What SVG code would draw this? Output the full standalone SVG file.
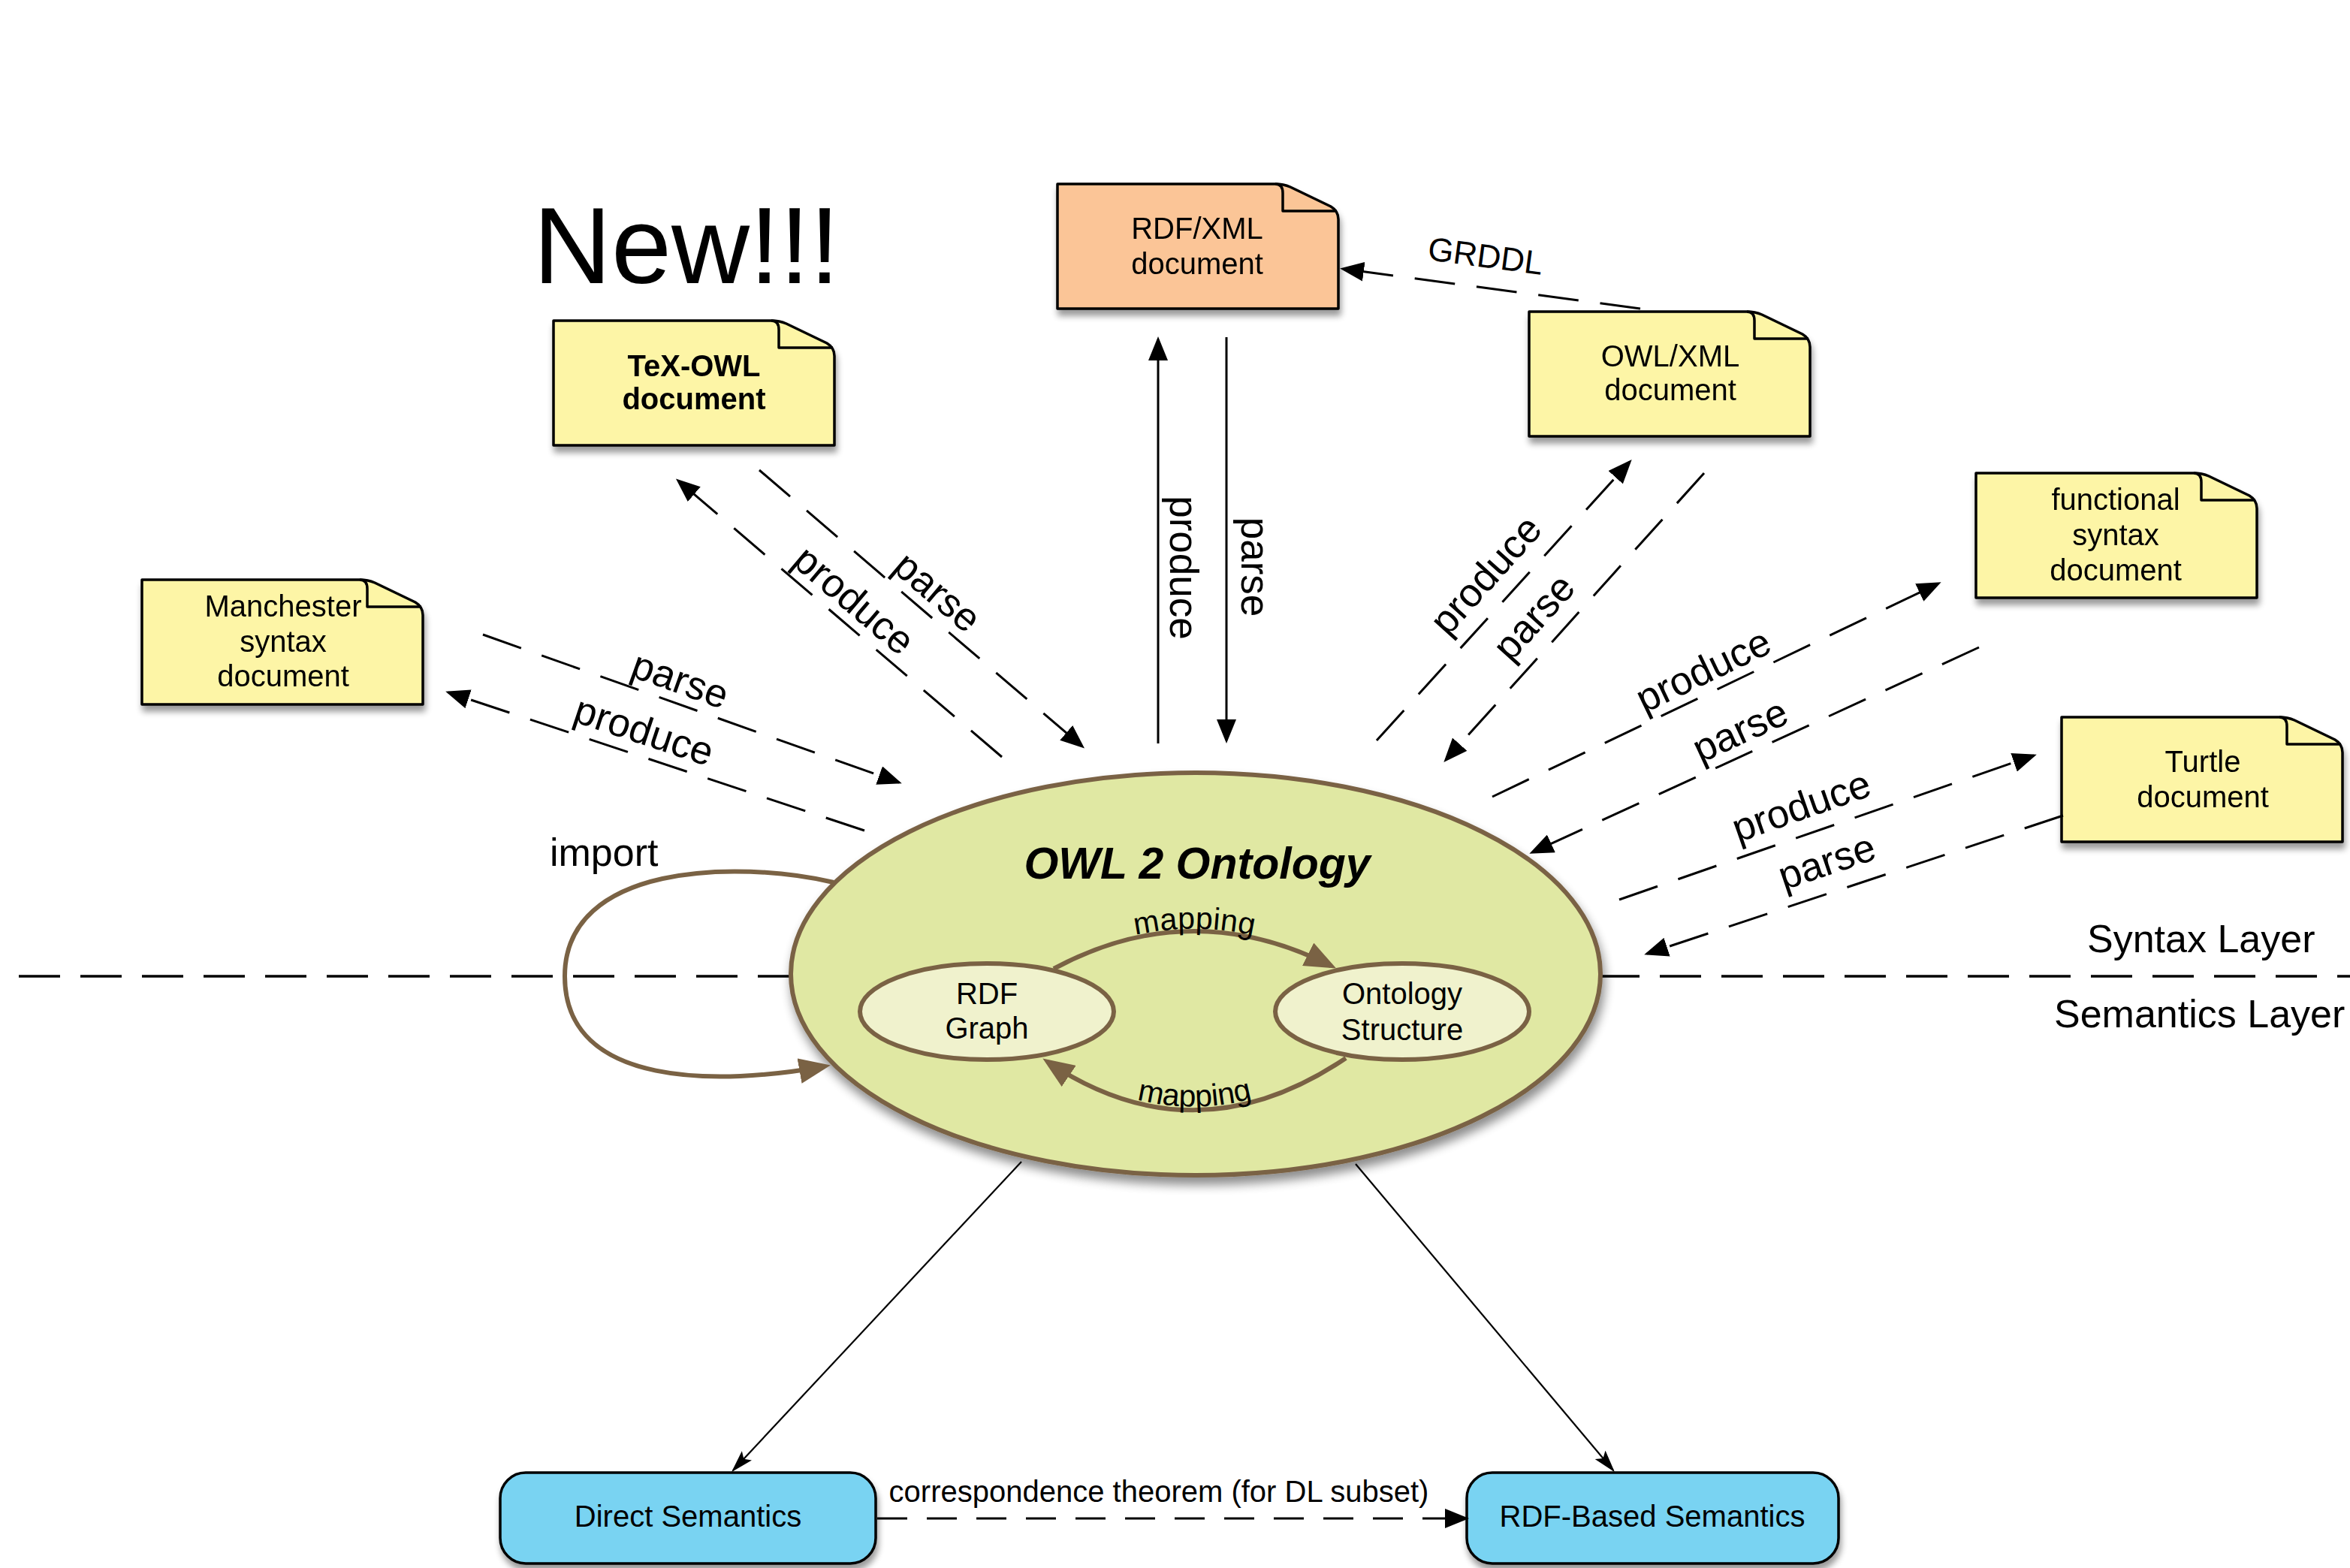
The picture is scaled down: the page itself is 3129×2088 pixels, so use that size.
<svg xmlns="http://www.w3.org/2000/svg" width="3129" height="2088" viewBox="0 0 3129 2088">
<style>
text { font-family: "Liberation Sans", Arial, Helvetica, sans-serif; fill: #000; }
.docl { font-size: 40px; text-anchor: middle; }
.docb { font-size: 40px; text-anchor: middle; font-weight: bold; }
.lbl { font-size: 53px; text-anchor: middle; }
.doc { stroke: #000; stroke-width: 3.5; stroke-linejoin: round; }
.fold { fill: none; stroke: #000; stroke-width: 3.5; stroke-linejoin: round; }
.yellow { fill: #FDF5A6; }
.orange { fill: #FBC597; }
.sep { fill: none; stroke: #000; stroke-width: 3.5; stroke-dasharray: 55 27; }
.dash { fill: none; stroke: #000; stroke-width: 3; stroke-dasharray: 54 29; marker-end: url(#ah); }
.solid { fill: none; stroke: #000; stroke-width: 3; marker-end: url(#ah); }
.thin { fill: none; stroke: #000; stroke-width: 2.2; marker-end: url(#ahs); }
.brown { fill: none; stroke: #7A6244; stroke-width: 6; marker-end: url(#ahb); }
.sem { fill: #79D3F2; stroke: #000; stroke-width: 3.5; }
</style>
<defs>
  <filter id="sh" x="-10%" y="-10%" width="125%" height="140%">
    <feGaussianBlur in="SourceAlpha" stdDeviation="4"/>
    <feOffset dx="2" dy="8"/>
    <feComponentTransfer><feFuncA type="linear" slope="0.4"/></feComponentTransfer>
    <feMerge><feMergeNode/><feMergeNode in="SourceGraphic"/></feMerge>
  </filter>
  <filter id="shE" x="-10%" y="-10%" width="125%" height="130%">
    <feGaussianBlur in="SourceAlpha" stdDeviation="7"/>
    <feOffset dx="3" dy="10"/>
    <feComponentTransfer><feFuncA type="linear" slope="0.45"/></feComponentTransfer>
    <feMerge><feMergeNode/><feMergeNode in="SourceGraphic"/></feMerge>
  </filter>
  <path id="docShape" d="M0,0 H290 Q301,0 310,4 L364,30 Q374,36 374,47 V166 H0 Z"/>
  <path id="docFold" d="M290,0 Q300,0 300,12 V36 H372"/>
  <marker id="ah" viewBox="0 0 32 26" refX="28" refY="13" markerWidth="32" markerHeight="26" orient="auto" markerUnits="userSpaceOnUse">
    <path d="M0,0 L32,13 L0,26 z" fill="#000"/>
  </marker>
  <marker id="ahs" viewBox="0 0 30 18" refX="27" refY="9" markerWidth="30" markerHeight="18" orient="auto" markerUnits="userSpaceOnUse">
    <path d="M0,0 L30,9 L0,18 L6,9 z" fill="#000"/>
  </marker>
  <marker id="ahb" viewBox="0 0 42 34" refX="34" refY="17" markerWidth="42" markerHeight="34" orient="auto" markerUnits="userSpaceOnUse">
    <path d="M0,0 L42,17 L0,34 z" fill="#7A6244"/>
  </marker>
  <path id="mapTopText" d="M1403,1290 Q1585,1192 1778,1289"/>
  <path id="mapBotText" d="M1389,1411 Q1590,1545 1792,1409"/>
</defs>
<rect width="3129" height="2088" fill="#fff"/>

<g id="layers">
  <path class="sep" d="M25,1300 H1070"/>
  <path class="sep" d="M2128,1300 H3129"/>
  <text x="2779" y="1268" font-size="52">Syntax Layer</text>
  <text x="2735" y="1368" font-size="52">Semantics Layer</text>
</g>

<text id="new" x="710" y="377" font-size="144">New!!!</text>

<g id="tex-owl" transform="translate(737,427)" filter="url(#sh)">
  <use href="#docShape" class="doc yellow"/>
  <use href="#docFold" class="fold"/>
  <text class="docb" x="187" y="74">TeX-OWL</text>
  <text class="docb" x="187" y="118">document</text>
</g>

<g id="rdfxml" transform="translate(1408,245)" filter="url(#sh)">
  <use href="#docShape" class="doc orange"/>
  <use href="#docFold" class="fold"/>
  <text class="docl" x="186" y="73">RDF/XML</text>
  <text class="docl" x="186" y="120">document</text>
</g>

<g id="owlxml" transform="translate(2036,415)" filter="url(#sh)">
  <use href="#docShape" class="doc yellow"/>
  <use href="#docFold" class="fold"/>
  <text class="docl" x="188" y="73">OWL/XML</text>
  <text class="docl" x="188" y="118">document</text>
</g>

<g id="manchester" transform="translate(189,772)" filter="url(#sh)">
  <use href="#docShape" class="doc yellow"/>
  <use href="#docFold" class="fold"/>
  <text class="docl" x="188" y="49">Manchester</text>
  <text class="docl" x="188" y="96">syntax</text>
  <text class="docl" x="188" y="142">document</text>
</g>

<g id="functional" transform="translate(2631,630)" filter="url(#sh)">
  <use href="#docShape" class="doc yellow"/>
  <use href="#docFold" class="fold"/>
  <text class="docl" x="186" y="49">functional</text>
  <text class="docl" x="186" y="96">syntax</text>
  <text class="docl" x="186" y="143">document</text>
</g>

<g id="turtle" transform="translate(2745,955)" filter="url(#sh)">
  <use href="#docShape" class="doc yellow"/>
  <use href="#docFold" class="fold"/>
  <text class="docl" x="188" y="73">Turtle</text>
  <text class="docl" x="188" y="120">document</text>
</g>

<g id="ontology">
  <ellipse cx="1592" cy="1297" rx="539" ry="268" fill="#E0E8A3" stroke="#7A6244" stroke-width="6" filter="url(#shE)"/>
  <text x="1594" y="1170" font-size="59" font-weight="bold" font-style="italic" text-anchor="middle">OWL 2 Ontology</text>
</g>

<g id="rdf-graph">
  <ellipse cx="1314" cy="1347" rx="169" ry="64" fill="#F0F2CD" stroke="#7A6244" stroke-width="6"/>
  <text class="docl" x="1314" y="1337">RDF</text>
  <text class="docl" x="1314" y="1383">Graph</text>
</g>

<g id="ontology-structure">
  <ellipse cx="1867" cy="1347" rx="169" ry="64" fill="#F0F2CD" stroke="#7A6244" stroke-width="6"/>
  <text class="docl" x="1867" y="1337">Ontology</text>
  <text class="docl" x="1867" y="1385">Structure</text>
</g>

<g id="direct-semantics">
  <rect x="666" y="1961" width="500" height="121" rx="34" ry="34" class="sem" filter="url(#sh)"/>
  <text class="docl" x="916" y="2033">Direct Semantics</text>
</g>

<g id="rdf-based-semantics">
  <rect x="1953" y="1961" width="495" height="121" rx="34" ry="34" class="sem" filter="url(#sh)"/>
  <text class="docl" x="2200" y="2033">RDF-Based Semantics</text>
</g>

<g id="connectors">
  <!-- Manchester -->
  <path class="dash" d="M643,845 L1197,1042"/>
  <path class="dash" d="M1151,1106 L597,922"/>
  <text class="lbl" transform="translate(904,910) rotate(19.7)" y="13">parse</text>
  <text class="lbl" transform="translate(856,978) rotate(18.4)" y="13">produce</text>
  <!-- TeX-OWL -->
  <path class="dash" d="M1011,626 L1441,994"/>
  <path class="dash" d="M1334,1008 L903,640"/>
  <text class="lbl" transform="translate(1245,792) rotate(40.6)" y="13">parse</text>
  <text class="lbl" transform="translate(1134,803) rotate(40.4)" y="13">produce</text>
  <!-- RDF/XML -->
  <path class="solid" d="M1542,990 L1542,452"/>
  <path class="solid" d="M1633,449 L1633,986"/>
  <text class="lbl" transform="translate(1571,756) rotate(90)" y="13">produce</text>
  <text class="lbl" transform="translate(1666,755) rotate(90)" y="13">parse</text>
  <!-- GRDDL -->
  <path class="dash" d="M2184,411 L1788,358"/>
  <text transform="translate(1978,341) rotate(7.6)" y="15" font-size="44" text-anchor="middle">GRDDL</text>
  <!-- OWL/XML -->
  <path class="dash" d="M1833,986 L2170,615"/>
  <path class="dash" d="M2269,630 L1925,1012"/>
  <text class="lbl" transform="translate(1982,769) rotate(-47.9)" y="13">produce</text>
  <text class="lbl" transform="translate(2046,825) rotate(-47.9)" y="13">parse</text>
  <!-- functional -->
  <path class="dash" d="M1987,1061 L2581,777"/>
  <path class="dash" d="M2635,862 L2040,1135"/>
  <text class="lbl" transform="translate(2270,897) rotate(-25.6)" y="13">produce</text>
  <text class="lbl" transform="translate(2319,977) rotate(-24.7)" y="13">parse</text>
  <!-- Turtle -->
  <path class="dash" d="M2156,1198 L2708,1006"/>
  <path class="dash" d="M2747,1086 L2193,1270"/>
  <text class="lbl" transform="translate(2400,1078) rotate(-19.3)" y="13">produce</text>
  <text class="lbl" transform="translate(2434,1152) rotate(-18.6)" y="13">parse</text>
  <!-- import -->
  <path class="brown" d="M1110,1175 C980,1145 752,1150 752,1300 C752,1450 960,1445 1098,1420"/>
  <text x="732" y="1153" font-size="52">import</text>
  <!-- mapping -->
  <path class="brown" d="M1403,1290 Q1585,1192 1772,1286"/>
  <path class="brown" d="M1792,1409 Q1590,1545 1395,1414"/>
  <text font-size="41" text-anchor="middle" dy="-4"><textPath href="#mapTopText" startOffset="50%">mapping</textPath></text>
  <text font-size="41" text-anchor="middle" dy="-4"><textPath href="#mapBotText" startOffset="50%">mapping</textPath></text>
  <!-- semantics -->
  <path class="thin" d="M1360,1547 L976,1958"/>
  <path class="thin" d="M1805,1550 L2148,1958"/>
  <path fill="none" stroke="#000" stroke-width="3" stroke-dasharray="40 26" marker-end="url(#ah)" d="M1168,2022 H1952"/>
  <text x="1543" y="2000" font-size="40" text-anchor="middle">correspondence theorem (for DL subset)</text>
</g>
</svg>
